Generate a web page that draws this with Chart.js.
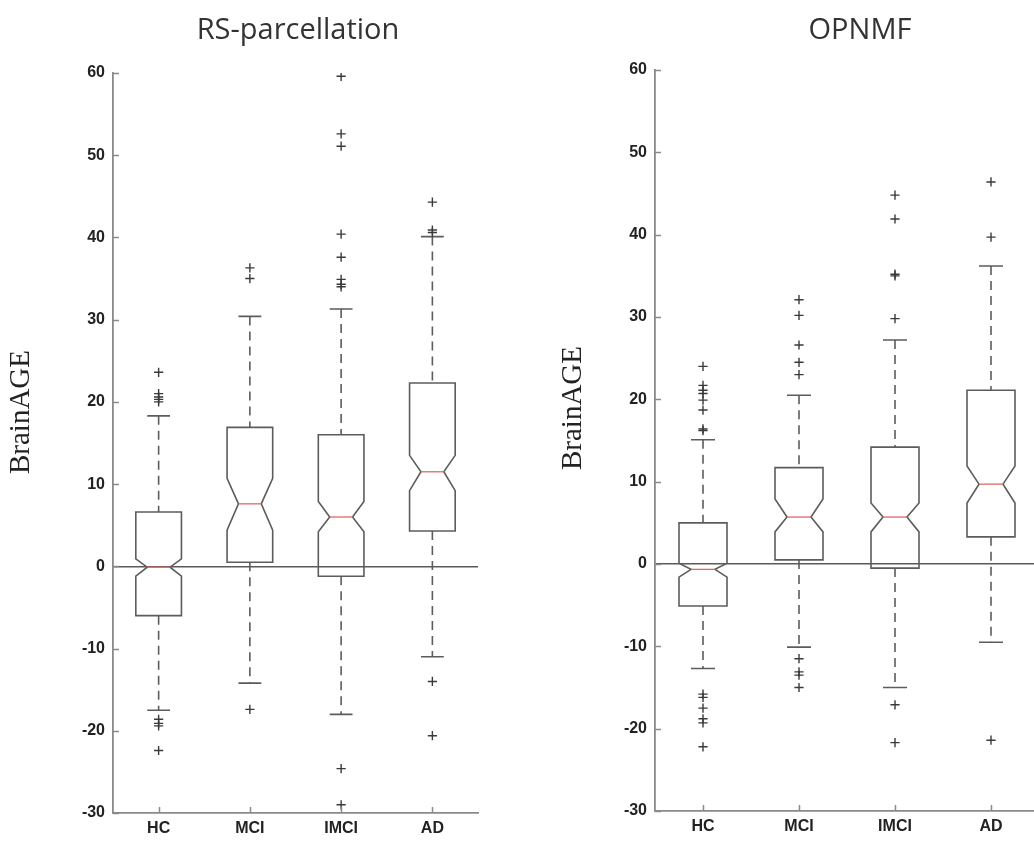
<!DOCTYPE html>
<html>
<head>
<meta charset="utf-8">
<script src="https://cdn.jsdelivr.net/npm/chart.js@4.4.1/dist/chart.umd.min.js"></script>
<style>
html,body{margin:0;padding:0;background:#fff;overflow:hidden;width:1034px;height:842px;position:relative;}
#wrapL{position:absolute;left:0;top:0;width:540px;height:842px;}
#wrapR{position:absolute;left:560px;top:0;width:540px;height:842px;}
canvas{display:block;}
</style>
</head>
<body>
<div id="wrapL"><canvas id="cL" width="540" height="842"></canvas></div>
<div id="wrapR"><canvas id="cR" width="540" height="842"></canvas></div>
<script>
// ---------- data ----------
const categories = ['HC', 'MCI', 'IMCI', 'AD'];
const yTickValues = [60, 50, 40, 30, 20, 10, 0, -10, -20, -30];
const panelTitles = ['RS-parcellation', 'OPNMF'];
const yAxisTitle = 'BrainAGE';

// RS-parcellation
const rsQ1          = [-6.0, 0.5, -1.2, 4.3];
const rsNotchLow    = [-1.2, 4.4, 4.2, 9.2];
const rsMedian      = [-0.1, 7.6, 6.0, 11.5];
const rsNotchHigh   = [0.9, 10.7, 7.9, 13.5];
const rsQ3          = [6.6, 16.9, 16.0, 22.3];
const rsWhiskerLow  = [-17.5, -14.2, -18.0, -11.0];
const rsWhiskerHigh = [18.3, 30.4, 31.3, 40.1];
const rsOutliers = [
  [23.6, 21.0, 20.6, 20.3, 20.0, -18.6, -19.1, -19.4, -22.4],
  [36.3, 35.0, -17.4],
  [59.6, 52.6, 51.1, 40.4, 37.6, 34.9, 34.3, 34.0, -24.6, -29.0],
  [44.3, 40.9, 40.6, -14.0, -20.6]
];

// OPNMF
const opQ1          = [-5.1, 0.5, -0.5, 3.3];
const opNotchLow    = [-1.6, 3.9, 3.9, 7.4];
const opMedian      = [-0.65, 5.7, 5.7, 9.7];
const opNotchHigh   = [0.1, 7.9, 7.4, 11.9];
const opQ3          = [5.0, 11.7, 14.2, 21.1];
const opWhiskerLow  = [-12.7, -10.1, -15.0, -9.5];
const opWhiskerHigh = [15.1, 20.5, 27.2, 36.2];
const opOutliers = [
  [24.0, 21.7, 21.1, 20.7, 19.9, 18.7, 16.4, 16.2, -15.8, -16.2, -17.5, -18.8, -19.3, -22.2],
  [32.1, 30.2, 26.6, 24.5, 23.0, -11.5, -13.1, -13.5, -15.0],
  [44.8, 41.9, 35.2, 35.0, 29.8, -17.1, -21.7],
  [46.4, 39.7, -21.4]
];

// ---------- drawing ----------
const AXIS_COLOR = '#8a8a8a';
const BOX_COLOR = '#5c5c5c';
const TEXT_COLOR = '#222';

function makeBoxPlugin(stats, text) {
  return {
    id: 'notchedBoxes',
    beforeDatasetsDraw(chart) {
      const ctx = chart.ctx;
      const x = chart.scales.x, y = chart.scales.y;
      const step = x.getPixelForValue(1) - x.getPixelForValue(0);
      const hw = step * 0.25, nw = hw * 0.5, cw = hw * 0.5;
      const py = v => y.getPixelForValue(v);
      ctx.save();
      ctx.lineWidth = 1.6;
      ctx.strokeStyle = BOX_COLOR;
      categories.forEach((c, i) => {
        const cx = x.getPixelForValue(i);
        // dashed whiskers
        ctx.setLineDash([9, 6]);
        ctx.beginPath();
        ctx.moveTo(cx, py(stats.whHi[i])); ctx.lineTo(cx, py(stats.q3[i]));
        ctx.moveTo(cx, py(stats.q1[i])); ctx.lineTo(cx, py(stats.whLo[i]));
        ctx.stroke();
        ctx.setLineDash([]);
        // caps
        ctx.beginPath();
        ctx.moveTo(cx - cw, py(stats.whHi[i])); ctx.lineTo(cx + cw, py(stats.whHi[i]));
        ctx.moveTo(cx - cw, py(stats.whLo[i])); ctx.lineTo(cx + cw, py(stats.whLo[i]));
        ctx.stroke();
        // notched box
        ctx.beginPath();
        ctx.moveTo(cx - hw, py(stats.q3[i]));
        ctx.lineTo(cx + hw, py(stats.q3[i]));
        ctx.lineTo(cx + hw, py(stats.nHi[i]));
        ctx.lineTo(cx + nw, py(stats.med[i]));
        ctx.lineTo(cx + hw, py(stats.nLo[i]));
        ctx.lineTo(cx + hw, py(stats.q1[i]));
        ctx.lineTo(cx - hw, py(stats.q1[i]));
        ctx.lineTo(cx - hw, py(stats.nLo[i]));
        ctx.lineTo(cx - nw, py(stats.med[i]));
        ctx.lineTo(cx - hw, py(stats.nHi[i]));
        ctx.closePath();
        ctx.stroke();
        // median
        ctx.strokeStyle = '#e0686a';
        ctx.lineWidth = 1.3;
        ctx.beginPath();
        ctx.moveTo(cx - nw, py(stats.med[i])); ctx.lineTo(cx + nw, py(stats.med[i]));
        ctx.stroke();
        ctx.strokeStyle = BOX_COLOR;
        ctx.lineWidth = 1.6;
      });
      ctx.restore();
    },
    afterDraw(chart) {
      const ctx = chart.ctx;
      const x = chart.scales.x, y = chart.scales.y;
      const area = chart.chartArea;
      ctx.save();
      // inward tick marks
      ctx.strokeStyle = AXIS_COLOR;
      ctx.lineWidth = 1.5;
      ctx.beginPath();
      y.ticks.forEach(t => {
        const p = Math.round(y.getPixelForValue(t.value)) + 0.5;
        ctx.moveTo(area.left, p); ctx.lineTo(area.left + 6, p);
      });
      categories.forEach((c, i) => {
        const p = Math.round(x.getPixelForValue(i)) + 0.5;
        ctx.moveTo(p, area.bottom); ctx.lineTo(p, area.bottom - 6);
      });
      ctx.stroke();
      // title
      ctx.fillStyle = '#333';
      ctx.font = '29px "Open Sans", "Noto Sans", sans-serif';
      ctx.textAlign = 'center';
      ctx.textBaseline = 'alphabetic';
      ctx.fillText(text.title, text.titleX, text.titleY);
      // y axis title
      ctx.fillStyle = TEXT_COLOR;
      ctx.font = '29px "Liberation Serif", "DejaVu Serif", serif';
      ctx.translate(text.yLabelX, text.yLabelY);
      ctx.rotate(-Math.PI / 2);
      ctx.textAlign = 'center';
      ctx.textBaseline = 'middle';
      ctx.fillText(yAxisTitle, 0, 0);
      ctx.restore();
    }
  };
}

function makeChart(canvasId, stats, outliers, lay, text) {
  const points = [];
  outliers.forEach((list, i) => list.forEach(v => points.push({ x: categories[i], y: v })));
  return new Chart(document.getElementById(canvasId), {
    type: 'line',
    data: {
      labels: categories,
      datasets: [{
        data: points,
        showLine: false,
        pointStyle: 'cross',
        pointRadius: 4.6,
        pointBorderWidth: 1.4,
        pointBorderColor: '#3a3a3a',
        pointBackgroundColor: '#3a3a3a'
      }]
    },
    options: {
      responsive: false,
      animation: false,
      events: [],
      layout: { padding: { left: 0, top: lay.top, right: lay.right, bottom: 0 } },
      plugins: { legend: { display: false }, tooltip: { enabled: false }, title: { display: false } },
      scales: {
        x: {
          type: 'category',
          offset: true,
          grid: { display: false, drawTicks: false },
          border: { display: true, color: AXIS_COLOR, width: 1.8 },
          ticks: { color: TEXT_COLOR, font: { family: '"Liberation Sans", Arial, sans-serif', size: 16, weight: 'bold' }, padding: 6, maxRotation: 0 },
          afterFit: s => { s.height = lay.xHeight; }
        },
        y: {
          type: 'linear',
          min: -30, max: 60,
          afterBuildTicks: s => { s.ticks = yTickValues.map(v => ({ value: v })); },
          grid: {
            drawTicks: false,
            lineWidth: 1.6,
            color: c => (c.tick && c.tick.value === 0) ? '#5a5a5a' : 'rgba(0,0,0,0)'
          },
          border: { display: true, color: AXIS_COLOR, width: 1.8 },
          ticks: { color: TEXT_COLOR, font: { family: '"Liberation Sans", Arial, sans-serif', size: 16, weight: 'bold' }, padding: 8 },
          afterFit: s => { s.width = lay.yWidth; }
        }
      }
    },
    plugins: [makeBoxPlugin(stats, text)]
  });
}

makeChart('cL',
  { q1: rsQ1, nLo: rsNotchLow, med: rsMedian, nHi: rsNotchHigh, q3: rsQ3, whLo: rsWhiskerLow, whHi: rsWhiskerHigh },
  rsOutliers,
  { top: 73, right: 62, xHeight: 29, yWidth: 113 },
  { title: panelTitles[0], titleX: 298, titleY: 39, yLabelX: 21, yLabelY: 412 });

makeChart('cR',
  { q1: opQ1, nLo: opNotchLow, med: opMedian, nHi: opNotchHigh, q3: opQ3, whLo: opWhiskerLow, whHi: opWhiskerHigh },
  opOutliers,
  { top: 70, right: 61, xHeight: 31, yWidth: 95 },
  { title: panelTitles[1], titleX: 300, titleY: 39, yLabelX: 13, yLabelY: 408 });
</script>
</body>
</html>
